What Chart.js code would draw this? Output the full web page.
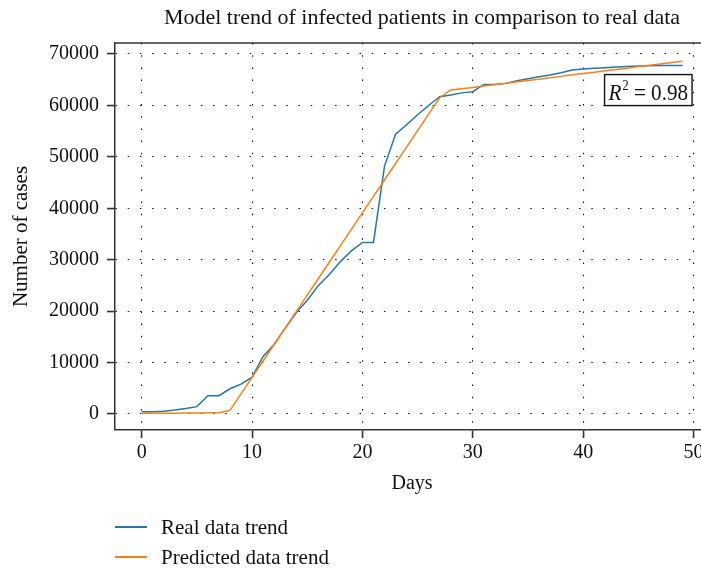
<!DOCTYPE html>
<html><head><meta charset="utf-8">
<script src="https://cdn.jsdelivr.net/npm/chart.js@4"></script>
<style>
html,body{margin:0;padding:0;background:#fff;overflow:hidden}
#wrap{position:relative;width:701px;height:572px;overflow:hidden;background:#fff}
canvas{position:absolute;left:0;top:0}
#legend{position:absolute;left:115px;top:512px;font-family:"Liberation Serif",serif;font-size:21px;color:#111}
.item{display:flex;align-items:center;height:30px}
.sw{display:inline-block;width:32px;height:1.5px;margin-right:14px}
</style></head><body>
<div id="wrap"><canvas id="c" width="720" height="572"></canvas><div id="legend"></div></div>
<script>
const days = [0,1,2,3,4,5,6,7,8,9,10,11,12,13,14,15,16,17,18,19,20,21,22,23,24,25,26,27,28,29,30,31,32,33,34,35,36,37,38,39,40,41,42,43,44,45,46,47,48,49];
const realCases = [444,444,549,761,1058,1423,3554,3554,4903,5806,7153,11177,13522,16678,19665,22112,24953,27100,29631,31728,33366,33366,48206,54406,56249,58182,59989,61682,62031,62442,62662,64084,64084,64287,64786,65187,65596,65914,66337,66907,67103,67217,67332,67466,67592,67666,67707,67743,67760,67773];
const predictedCases = [150,150,150,150,200,200,250,250,700,3900,7100,10300,13500,16700,19900,23100,26300,29500,32700,35900,39100,42300,45500,48700,51900,55100,58300,61500,63000,63250,63500,63800,64050,64300,64600,64850,65100,65400,65650,65950,66200,66450,66750,67000,67250,67550,67800,68050,68350,68600];
const xTicks = [0,10,20,30,40,50];
const yTicks = [0,10000,20000,30000,40000,50000,60000,70000];
const seriesNames = ['Real data trend','Predicted data trend'];
const seriesColors = ['#1f77b4','#ff7f0e'];
const titleText = 'Model trend of infected patients in comparison to real data';
const rSquared = '0.98';

const FONT = '"Liberation Serif", "Times New Roman", serif';

const framePlugin = {
  id: 'frame',
  afterLayout(chart) {
    const t = chart.titleBlock;
    if (t) { t.left += 10; t.right += 10; }
  },
  afterDraw(chart) {
    const {ctx, chartArea: a, scales} = chart;
    ctx.save();
    ctx.strokeStyle = '#333';
    ctx.lineWidth = 1.5;
    ctx.beginPath();
    ctx.moveTo(a.left - 0.75, a.top);
    ctx.lineTo(a.right, a.top);
    ctx.stroke();
    // R^2 annotation box
    const right = scales.x.getPixelForValue(50) - 1.5;
    const top = scales.y.getPixelForValue(66000);
    const fs = 24, sx = 0.88;
    ctx.font = 'italic ' + fs + 'px ' + FONT;
    const wR = ctx.measureText('R').width * sx;
    ctx.font = Math.round(fs * 0.6) + 'px ' + FONT;
    const w2 = ctx.measureText('2').width * sx;
    ctx.font = fs + 'px ' + FONT;
    const rest = ' = ' + rSquared;
    const wRest = ctx.measureText(rest).width * sx;
    const pad = 4;
    const width = wR + w2 + 1 + wRest + pad * 2;
    const height = 31;
    const left = right - width;
    ctx.fillStyle = '#fff';
    ctx.fillRect(left, top, width, height);
    ctx.strokeStyle = '#111';
    ctx.lineWidth = 1.4;
    ctx.strokeRect(left, top, width, height);
    ctx.fillStyle = '#111';
    ctx.textBaseline = 'alphabetic';
    const base = top + height - 6;
    const draw = (txt, font, x, y) => {
      ctx.save(); ctx.font = font; ctx.translate(x, y); ctx.scale(sx, 1);
      ctx.fillText(txt, 0, 0); ctx.restore();
    };
    let x = left + pad;
    draw('R', 'italic ' + fs + 'px ' + FONT, x, base);
    x += wR + 1;
    draw('2', Math.round(fs * 0.6) + 'px ' + FONT, x, base - 9.5);
    x += w2;
    draw(rest, fs + 'px ' + FONT, x, base);
    ctx.restore();
  }
};

const gridCommon = {
  color: '#111',
  lineWidth: 1.1,
  drawTicks: true,
  tickLength: 8,
  tickColor: '#333',
  tickWidth: 1.6,
  tickBorderDash: []
};

new Chart(document.getElementById('c'), {
  type: 'line',
  data: {
    datasets: [
      { label: seriesNames[0], data: days.map((d, i) => ({x: d, y: realCases[i]})),
        borderColor: seriesColors[0], backgroundColor: seriesColors[0], borderWidth: 1.5,
        pointRadius: 0, tension: 0, fill: false, order: 1 },
      { label: seriesNames[1], data: days.map((d, i) => ({x: d, y: predictedCases[i]})),
        borderColor: seriesColors[1], backgroundColor: seriesColors[1], borderWidth: 1.5,
        pointRadius: 0, tension: 0, fill: false, order: 0 }
    ]
  },
  options: {
    responsive: false,
    animation: false,
    devicePixelRatio: 1,
    layout: { padding: { left: 0, right: 11, top: 0, bottom: 72 } },
    plugins: {
      legend: { display: false },
      tooltip: { enabled: false },
      title: { display: true, fullSize: false, text: titleText, color: '#111',
        font: { family: FONT, size: 22, weight: 'normal' },
        padding: { top: 5.3, bottom: 11.3 } }
    },
    scales: {
      x: {
        type: 'linear', min: -2.42, max: 51.4,
        afterBuildTicks: s => { s.ticks = xTicks.map(v => ({value: v})); },
        afterFit: s => { s.height = 70; },
        grid: gridCommon,
        border: { display: true, color: '#333', width: 1.5, dash: [1.5, 10.7] },
        ticks: { color: '#111', padding: 3, maxRotation: 0, autoSkip: false,
          font: { family: FONT, size: 20 } },
        title: { display: true, text: 'Days', color: '#111',
          font: { family: FONT, size: 20 }, padding: { top: 0, bottom: 4 } }
      },
      y: {
        type: 'linear', min: -3120, max: 72140,
        afterBuildTicks: s => { s.ticks = yTicks.map(v => ({value: v})); },
        afterFit: s => { s.width = 115; },
        grid: gridCommon,
        border: { display: true, color: '#333', width: 1.5, dash: [1.5, 10.7] },
        ticks: { color: '#111', padding: 8, autoSkip: false,
          font: { family: FONT, size: 20 }, callback: v => String(v) },
        title: { display: true, text: 'Number of cases', color: '#111',
          font: { family: FONT, size: 21 }, padding: { top: 8.4, bottom: 0 } }
      }
    }
  },
  plugins: [framePlugin]
});

const lg = document.getElementById('legend');
seriesNames.forEach((n, i) => {
  const it = document.createElement('div'); it.className = 'item';
  const sw = document.createElement('span'); sw.className = 'sw'; sw.style.background = seriesColors[i];
  const tx = document.createElement('span'); tx.textContent = n;
  it.appendChild(sw); it.appendChild(tx); lg.appendChild(it);
});
</script>
</body></html>
